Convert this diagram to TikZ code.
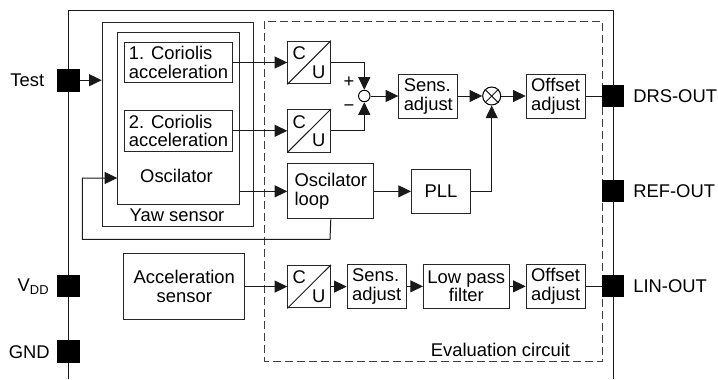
\documentclass[tikz,border=0pt]{standalone}
\usepackage{fontspec}
\setmainfont{Liberation Sans}
\usetikzlibrary{arrows.meta,calc}
\tikzset{
  x=0.75pt,y=-0.75pt,
  box/.style={draw=black!85,line width=0.75pt,inner sep=0pt,align=left,font=\fontsize{13.8}{13.9}\selectfont},
  boxc/.style={box,align=center},
  pin/.style={fill=black,draw=none,minimum size=17pt,inner sep=0,outer sep=0},
  lab/.style={font=\fontsize{13.8}{13.9}\selectfont,inner sep=0},
  wire/.style={line width=0.75pt,draw=black!90},
  arr/.style={wire,-{Triangle[length=9.5pt,width=9pt]}},
  dotc/.style={circle,draw=black,fill=white,line width=0.75pt,minimum size=8.6pt,inner sep=0},
  cross/.style={circle,draw=black,line width=0.75pt,minimum size=13.5pt,inner sep=0},
}
\newcommand{\boxat}[6]{\node[box,minimum width=#4*0.75pt-#2*0.75pt,minimum height=#5*0.75pt-#3*0.75pt,anchor=north west] (#1) at (#2,#3) {#6};}
\newcommand{\boxcat}[6]{\node[boxc,minimum width=#4*0.75pt-#2*0.75pt,minimum height=#5*0.75pt-#3*0.75pt,anchor=north west] (#1) at (#2,#3) {#6};}
\newcommand{\cuat}[3]{%
 \node[box,minimum width=42.7*0.75pt,minimum height=42.6*0.75pt,anchor=north west] (#1) at (#2,#3) {};
 \draw[wire] (#1.south west) -- (#1.north east);
 \node[lab] at ($(#1.center)+(-10,-9)$) {C};
 \node[lab] at ($(#1.center)+(9.5,9.7)$) {U};}
\begin{document}
\begin{tikzpicture}
\useasboundingbox (0,0) rectangle (718,379);
% chip
\coordinate (cl) at (68.3,379);
\coordinate (cr) at (613,379);
\draw[wire] (cl) -- (68.3,10.5) -- (613,10.5) -- (cr);
% dashed
\draw[wire,dash pattern=on 6pt off 3pt,draw=black!75] (264.3,21.3) rectangle (602.3,361);
% yaw
\boxat{yaw}{101.7}{21.7}{253.3}{225.7}{}
\boxat{osc}{117.3}{32.3}{238.7}{204.3}{}
\node[lab] (osclab) at (176.5,175.7) {Oscilator};
\node[lab] (yawlab) at (177,215.7) {Yaw sensor};
\boxat{c1}{124.3}{41.7}{231.7}{82.3}{1. Coriolis\\acceleration}
\boxat{c2}{124.3}{110.3}{231.7}{150.5}{2. Coriolis\\acceleration}
\cuat{cu1}{287.3}{40.7}
\cuat{cu2}{287.3}{109}
\cuat{cu3}{287.3}{264.8}
\boxat{ol}{287.3}{163.3}{373.3}{218.3}{Oscilator\\loop}
\boxat{pll}{411}{169}{470}{212.7}{PLL}
\boxat{s1}{398.3}{74}{457.3}{118}{Sens.\\adjust}
\boxat{o1}{525.7}{74}{584.7}{118}{Offset\\adjust}
\boxcat{acc}{123.3}{252.7}{244.3}{319}{Acceleration\\sensor}
\boxat{s3}{346.7}{264}{405.7}{307.7}{Sens.\\adjust}
\boxcat{lp}{423}{264}{508.7}{307.7}{Low pass\\filter\hspace{10.5pt}}
\boxat{o3}{525.7}{264}{584.7}{307.7}{Offset\\adjust}
\node[dotc] (sum) at (364.3,96) {};
\node[cross] (mul) at (491.7,96) {};
\draw[wire] (mul.45) -- (mul.225) (mul.135) -- (mul.315);
\node[lab] (plus) at (349,82.3) {+};
\node[lab] (minus) at (349,107.7) {−};
% pins
\node[pin] (test) at (68.5,80.2) {};
\node[pin] (vdd) at (68.5,286) {};
\node[pin] (gnd) at (68.5,351.3) {};
\node[pin] (drs) at (613,96) {};
\node[pin] (ref) at (613,191) {};
\node[pin] (lin) at (613,286) {};
\node[lab,anchor=east] (ltest) at (44.5,80.5) {Test};
\node[lab,anchor=east] (lvdd) at (49.5,287) {V\textsubscript{DD}};
\node[lab,anchor=east] (lgnd) at (50,352) {GND};
\node[lab,anchor=west] (ldrs) at (633,96) {DRS-OUT};
\node[lab,anchor=west] (lref) at (633,191) {REF-OUT};
\node[lab,anchor=west] (llin) at (633,286) {LIN-OUT};
\node[lab] (leval) at (500.5,350) {Evaluation circuit};
% wires
\draw[arr] (test.east) -- (yaw.west |- test);
\draw[arr] (c1.east |- cu1) -- (cu1.west);
\draw[arr] (c2.east |- cu2) -- (cu2.west);
\draw[arr] (cu1.east) -| (sum.north);
\draw[arr] (cu2.east) -| (sum.south);
\draw[arr] (sum.east) -- (s1.west |- sum);
\draw[arr] (s1.east |- mul) -- (mul.west);
\draw[arr] (mul.east) -- (o1.west |- mul);
\draw[wire] (o1.east |- drs) -- (drs.west);
\draw[arr] (osc.east |- pll) -- (ol.west |- pll);
\draw[arr] (ol.east |- pll) -- (pll.west);
\draw[arr] (pll.east) -| (mul.south);
\coordinate (fb1) at (330,239.3);
\coordinate (fb2) at (82.3,239.3);
\coordinate (fb3) at (82.3,178);
\draw[arr] (ol.south) -- (fb1) -- (fb2) -- (fb3) -- (osc.west |- fb3);
\draw[arr] (acc.east |- cu3) -- (cu3.west);
\draw[arr] (cu3.east) -- (s3.west |- cu3);
\draw[arr] (s3.east |- lp) -- (lp.west);
\draw[arr] (lp.east) -- (o3.west |- lp);
\draw[wire] (o3.east |- lin) -- (lin.west);
\end{tikzpicture}
\end{document}
